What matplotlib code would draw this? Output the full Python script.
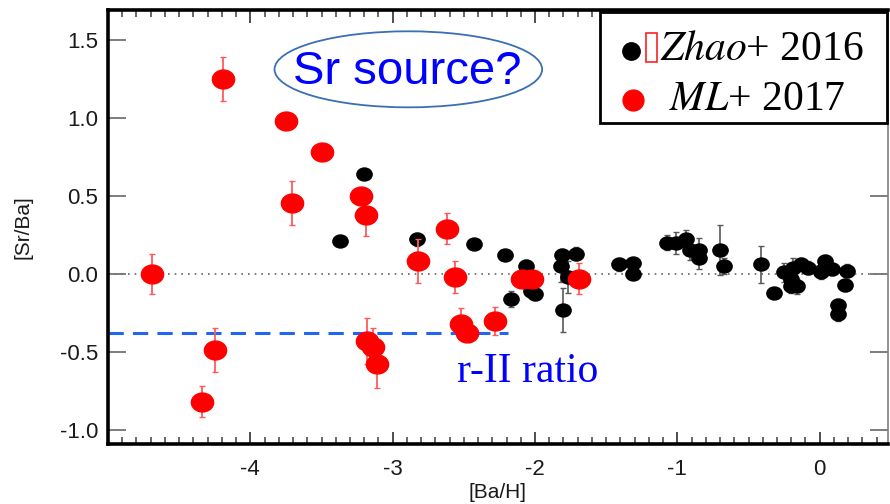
import numpy as np
import matplotlib.pyplot as plt
from matplotlib.path import Path
from matplotlib.patches import Ellipse, Rectangle
from matplotlib.transforms import Affine2D
from matplotlib.ticker import MultipleLocator

# Zhao+ 2016
zhao_x = np.array([-3.20, -3.37, -2.83, -2.43, -2.21, -2.06, -2.17, -2.03, -2.00,
                   -1.80, -1.81, -1.71, -1.82, -1.77, -1.41, -1.31, -1.31,
                   -1.07, -1.01, -0.94, -0.91, -0.85, -0.85, -0.70, -0.67, -0.41,
                   -0.32, -0.25, -0.20, -0.19, -0.16, -0.13, -0.08, 0.01, 0.04,
                   0.09, 0.19, 0.18, 0.13, 0.13, -0.20, 0.01])
zhao_y = np.array([0.64, 0.21, 0.22, 0.19, 0.12, 0.05, -0.16, -0.11, -0.13,
                   -0.23, 0.12, 0.13, 0.05, -0.02, 0.06, 0.07, 0.00,
                   0.20, 0.20, 0.22, 0.15, 0.15, 0.10, 0.15, 0.05, 0.06,
                   -0.12, 0.01, -0.03, 0.04, -0.08, 0.06, 0.04, 0.02, 0.08,
                   0.03, 0.02, -0.07, -0.20, -0.26, -0.08, 0.01])
zhao_err = np.array([0.0, 0.0, 0.04, 0.0, 0.0, 0.04, 0.05, 0.04, 0.04,
                     0.14, 0.04, 0.04, 0.10, 0.10, 0.04, 0.03, 0.03,
                     0.05, 0.07, 0.06, 0.06, 0.08, 0.07, 0.16, 0.05, 0.12,
                     0.0, 0.06, 0.05, 0.06, 0.05, 0.04, 0.04, 0.04, 0.04,
                     0.04, 0.04, 0.04, 0.04, 0.04, 0.04, 0.04])

# ML+ 2017
ml_x = np.array([-4.69, -4.19, -3.75, -3.50, -3.71, -3.22, -3.19, -4.34, -4.25,
                 -3.18, -3.14, -3.11, -2.62, -2.82, -2.56, -2.52, -2.48, -2.28,
                 -2.09, -2.02, -1.69])
ml_y = np.array([0.00, 1.25, 0.98, 0.78, 0.455, 0.50, 0.38, -0.82, -0.49,
                 -0.43, -0.47, -0.58, 0.29, 0.08, -0.02, -0.32, -0.38, -0.30,
                 -0.03, -0.03, -0.03])
ml_err = np.array([0.13, 0.14, 0.0, 0.0, 0.14, 0.0, 0.14, 0.10, 0.14,
                   0.15, 0.12, 0.15, 0.10, 0.14, 0.10, 0.10, 0.0, 0.09,
                   0.0, 0.0, 0.10])

r2_ratio = -0.38
r2_xmax = -2.19

# slightly flattened circle used as marker
oval = Path.unit_circle().transformed(Affine2D().scale(1.0, 0.85))

fig = plt.figure(figsize=(8.9, 5.04), dpi=100)
ax = fig.add_axes([108 / 890, 60 / 504, 780 / 890, 434 / 504])

ax.axhline(0, color='0.4', ls=(0, (1, 3)), lw=1.2, zorder=1)
ax.plot([-5.0, r2_xmax], [r2_ratio, r2_ratio], color='#2266ee',
        ls=(0, (5, 3)), lw=2.2, zorder=2)

ax.errorbar(zhao_x, zhao_y, yerr=zhao_err, fmt='none', ecolor='0.35',
            elinewidth=1.2, capsize=2.5, capthick=1, zorder=3)
ax.plot(zhao_x, zhao_y, ls='none', marker=oval, ms=11, color='black',
        zorder=4)
ax.errorbar(ml_x, ml_y, yerr=ml_err, fmt='none', ecolor='#ff5a5a',
            elinewidth=1.3, capsize=2.5, capthick=1, zorder=5)
ax.plot(ml_x, ml_y, ls='none', marker=oval, ms=16, color='#ff0000',
        zorder=6)

ax.set_xlim(-5.0, 0.48)
ax.set_ylim(-1.09, 1.69)
ax.xaxis.set_major_locator(MultipleLocator(1))
ax.xaxis.set_minor_locator(MultipleLocator(0.1))
ax.set_xticks([-4, -3, -2, -1, 0])
ax.set_yticks([-1.0, -0.5, 0.0, 0.5, 1.0, 1.5])
ax.set_yticklabels(['-1.0', '-0.5', '0.0', '0.5', '1.0', '1.5'])
ax.set_xticklabels(['-4', '-3', '-2', '-1', '0'])

ax.tick_params(axis='x', which='major', direction='in', length=9, width=1.3,
               top=True, color='0.25', labelsize=16, pad=11)
ax.tick_params(axis='x', which='minor', direction='in', length=5, width=1.1,
               top=True, color='0.25')
ax.tick_params(axis='y', which='major', direction='in', length=13, width=1.3,
               right=True, color='0.45', labelsize=16, pad=7)
for lab in ax.get_xticklabels() + ax.get_yticklabels():
    lab.set_fontfamily('Liberation Sans')
    lab.set_color('0.1')

for side in ['left', 'bottom', 'top']:
    ax.spines[side].set_linewidth(2.6)
    ax.spines[side].set_color('black')
ax.spines['right'].set_linewidth(1.2)
ax.spines['right'].set_color('0.5')

ax.set_xlabel('[Ba/H]', fontsize=15, family='Liberation Sans', color='0.1',
              labelpad=2)
ax.set_ylabel('[Sr/Ba]', fontsize=15, family='Liberation Sans', color='0.1',
              labelpad=20)

# annotations
ax.add_patch(Ellipse((-2.89, 1.31), 1.88, 0.487, fill=False,
                     edgecolor='#3a6fb0', lw=1.3, zorder=7))
ax.text(-2.90, 1.29, 'Sr source?', color='#0000ff', fontsize=34,
        family='Liberation Sans', ha='center', va='center', zorder=8)
ax.text(-2.05, -0.63, 'r-II ratio', color='#0000ff', fontsize=30,
        family='Liberation Serif', ha='center', va='center', zorder=8)

# legend box
fig.patches.append(Rectangle((600 / 890, 1 - 123 / 504), 287 / 890, 111 / 504,
                             transform=fig.transFigure, fill=True,
                             facecolor='white', edgecolor='black', lw=2,
                             zorder=10))
fig.lines.append(plt.Line2D([631 / 890], [1 - 51 / 504], marker='o', ms=12.5,
                            color='black', transform=fig.transFigure,
                            zorder=11))
fig.patches.append(Rectangle((646 / 890, 1 - 62 / 504), 11 / 890, 29 / 504,
                             transform=fig.transFigure, fill=False,
                             edgecolor='#ff2020', lw=1.2, zorder=11))
fig.lines.append(plt.Line2D([633 / 890], [1 - 100 / 504], marker='o', ms=15,
                            color='#ff0000', transform=fig.transFigure,
                            zorder=11))
fig.text(660 / 890, 1 - 50 / 504, r'$\mathit{Zhao}$+ 2016', fontsize=30,
         family='Liberation Serif', va='center', ha='left', zorder=12,
         math_fontfamily='stix')
fig.text(669 / 890, 1 - 100 / 504, r'$\mathit{ML}$+ 2017', fontsize=30,
         family='Liberation Serif', va='center', ha='left', zorder=12,
         math_fontfamily='stix')

fig.savefig('out.png', dpi=100)
